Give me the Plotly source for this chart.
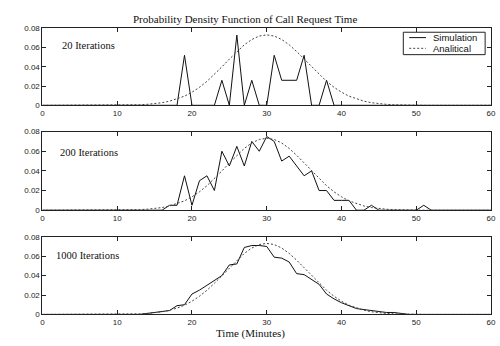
import plotly.graph_objects as go

minutes = list(range(0, 61))

sim_20 = [0, 0, 0, 0, 0, 0, 0, 0, 0, 0,
          0, 0, 0, 0, 0, 0, 0, 0, 0, 0.052,
          0, 0, 0, 0, 0.026, 0, 0.073, 0, 0.026, 0,
          0, 0.052, 0.026, 0.026, 0.026, 0.052, 0, 0, 0.026, 0,
          0, 0, 0, 0, 0, 0, 0, 0, 0, 0,
          0, 0, 0, 0, 0, 0, 0, 0, 0, 0, 0]

sim_200 = [0, 0, 0, 0, 0, 0, 0, 0, 0, 0,
           0, 0, 0, 0, 0, 0, 0, 0.005, 0.005, 0.035,
           0.005, 0.030, 0.035, 0.020, 0.060, 0.045, 0.065, 0.045, 0.070, 0.060,
           0.075, 0.070, 0.050, 0.055, 0.045, 0.035, 0.040, 0.020, 0.020, 0.010,
           0.010, 0.010, 0, 0, 0.005, 0, 0, 0, 0, 0,
           0, 0.005, 0, 0, 0, 0, 0, 0, 0, 0, 0]

sim_1000 = [0, 0, 0, 0, 0, 0, 0, 0, 0, 0,
            0, 0, 0, 0, 0.001, 0.002, 0.0025, 0.004, 0.009, 0.010,
            0.021, 0.025, 0.030, 0.035, 0.040, 0.051, 0.052, 0.069, 0.071, 0.071,
            0.070, 0.059, 0.058, 0.054, 0.042, 0.041, 0.036, 0.031, 0.021, 0.016,
            0.012, 0.009, 0.006, 0.005, 0.004, 0.003, 0.002, 0.002, 0.001, 0,
            0, 0, 0, 0, 0, 0, 0, 0, 0, 0, 0]

analytical = [0, 0, 0, 0, 0, 0, 0, 0, 0, 0,
              0.0001, 0.0002, 0.0003, 0.0006, 0.0010, 0.0017, 0.0027, 0.0043, 0.0065, 0.0095,
              0.0136, 0.0187, 0.0249, 0.0321, 0.0399, 0.0480, 0.0559, 0.0629, 0.0684, 0.0720,
              0.0732, 0.0720, 0.0684, 0.0629, 0.0559, 0.0480, 0.0399, 0.0321, 0.0249, 0.0187,
              0.0136, 0.0095, 0.0065, 0.0043, 0.0027, 0.0017, 0.0010, 0.0006, 0.0003, 0.0002,
              0.0001, 0, 0, 0, 0, 0, 0, 0, 0, 0, 0]

panel_labels = ["20 Iterations", "200 Iterations", "1000 Iterations"]
series = [sim_20, sim_200, sim_1000]
x_ticks = [0, 10, 20, 30, 40, 50, 60]
y_ticks = [0, 0.02, 0.04, 0.06, 0.08]
y_ticktext = ["0", "0.02", "0.04", "0.06", "0.08"]

W, H = 500, 346
def px(x):
    return x / W
def py(y):
    return 1 - y / H

# panel pixel boxes (top, bottom)
panels = [(25, 104), (131, 211.7), (239, 318.7)]
label_pos = [(59, 43), (57, 152), (53, 258)]
xl, xr = 41, 496

fig = go.Figure()
tickfont = dict(family="Liberation Sans", size=8, color="#222")
serif = dict(family="Liberation Serif", size=10.5, color="#111")
serif_big = dict(family="Liberation Serif", size=11, color="#111")

annotations = []
for i, (s, lab) in enumerate(zip(series, panel_labels)):
    n = "" if i == 0 else str(i + 1)
    fig.add_trace(go.Scatter(x=minutes, y=s, mode="lines",
                             line=dict(color="#111", width=1),
                             xaxis="x" + n, yaxis="y" + n, showlegend=False,
                             name="Simulation"))
    fig.add_trace(go.Scatter(x=minutes, y=analytical, mode="lines",
                             line=dict(color="#444", width=1, dash="2px,2px"),
                             xaxis="x" + n, yaxis="y" + n, showlegend=False,
                             name="Analitical"))
    top, bot = panels[i]
    ax = dict(domain=[px(xl), px(xr)], range=[0, 60], tickvals=x_ticks,
              ticks="inside", ticklen=4, tickcolor="#222", showline=True,
              linecolor="#222", linewidth=1, mirror="ticks", showgrid=False,
              zeroline=False, tickfont=tickfont, anchor="y" + n,
              ticklabeloverflow="allow")
    ay = dict(domain=[py(bot), py(top)], range=[0, 0.08], tickvals=y_ticks,
              ticktext=y_ticktext,
              ticks="inside", ticklen=4, tickcolor="#222", showline=True,
              linecolor="#222", linewidth=1, mirror="ticks", showgrid=False,
              zeroline=False, tickfont=tickfont, anchor="x" + n)
    fig.update_layout(**{"xaxis" + n: ax, "yaxis" + n: ay})
    lx, ly = label_pos[i]
    annotations.append(dict(text=lab, x=px(lx), y=py(ly), xref="paper", yref="paper",
                            xanchor="left", yanchor="middle", showarrow=False, font=serif))

annotations.append(dict(text="Probability Density Function of Call Request Time",
                        x=px(246), y=py(15), xref="paper", yref="paper",
                        xanchor="center", yanchor="middle", showarrow=False, font=serif_big))
annotations.append(dict(text="Time (Minutes)", x=px(252), y=py(338), xref="paper",
                        yref="paper", xanchor="center", yanchor="middle",
                        showarrow=False, font=serif_big, borderpad=0))

# legend box
legfont = dict(family="Liberation Sans", size=9.5, color="#111")
shapes = [
    dict(type="rect", xref="paper", yref="paper", x0=px(407), x1=px(490),
         y0=py(52), y1=py(29), line=dict(color="#222", width=1), fillcolor="white"),
    dict(type="line", xref="paper", yref="paper", x0=px(413), x1=px(430),
         y0=py(34.5), y1=py(34.5), line=dict(color="#111", width=1)),
    dict(type="line", xref="paper", yref="paper", x0=px(413), x1=px(430),
         y0=py(45.5), y1=py(45.5), line=dict(color="#444", width=1, dash="2px,2px")),
]
annotations.append(dict(text="Simulation", x=px(435), y=py(34.5), xref="paper", yref="paper",
                        xanchor="left", yanchor="middle", showarrow=False, font=legfont))
annotations.append(dict(text="Analitical", x=px(435), y=py(45.5), xref="paper", yref="paper",
                        xanchor="left", yanchor="middle", showarrow=False, font=legfont))

fig.update_layout(width=W, height=H, margin=dict(l=0, r=0, t=0, b=0),
                  paper_bgcolor="white", plot_bgcolor="white",
                  annotations=annotations, shapes=shapes, showlegend=False)

fig.write_html("out.html")
